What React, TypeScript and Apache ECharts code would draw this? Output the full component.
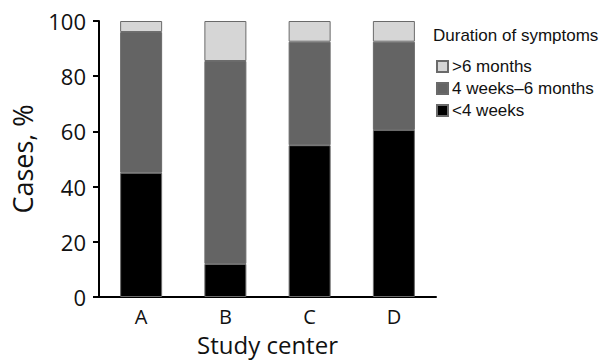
import React, { useEffect, useRef } from "react";
import * as echarts from "echarts";

const categories = ["A", "B", "C", "D"];
const under4Weeks = [45, 12, 55, 60.5];
const weeks4To6Months = [51, 73.5, 37.5, 32];
const over6Months = [4, 14.5, 7.5, 7.5];
const seriesNames = ["<4 weeks", "4 weeks\u20136 months", ">6 months"];
const yTicks = [0, 20, 40, 60, 80, 100];

export default function App() {
  const ref = useRef<HTMLDivElement>(null);
  useEffect(() => {
    if (!ref.current) return;
    const chart = echarts.init(ref.current, null, { renderer: "svg" });
    const border = { borderColor: "#6a6a6a", borderWidth: 1 };
    chart.setOption({
      animation: false,
      backgroundColor: "#ffffff",
      textStyle: { fontFamily: "Open Sans" },
      grid: {
        left: 99,
        right: 170,
        top: 21,
        bottom: 63,
        containLabel: false,
        outerBoundsMode: "none",
      },
      legend: {
        orient: "vertical",
        left: 431,
        top: 53,
        itemWidth: 11,
        itemHeight: 11,
        itemGap: 5,
        data: [seriesNames[2], seriesNames[1], seriesNames[0]],
        textStyle: { fontFamily: "Liberation Sans", fontSize: 17, color: "#111", padding: [0, 0, 0, -1] },
        icon: "rect",
      },
      graphic: [
        {
          type: "text",
          left: 433,
          top: 27,
          style: { text: "Duration of symptoms", font: "17px 'Liberation Sans'", fill: "#111" },
        },
      ],
      xAxis: {
        type: "category",
        data: categories,
        name: "Study center",
        nameLocation: "middle",
        nameGap: 35,
        nameTextStyle: { fontSize: 24, lineHeight: 24, color: "#111", fontFamily: "Open Sans" },
        axisLine: { lineStyle: { color: "#000", width: 2 } },
        axisTick: { show: false },
        axisLabel: { fontSize: 20, lineHeight: 18, color: "#111", margin: 10 },
      },
      yAxis: {
        type: "value",
        min: 0,
        max: 100,
        interval: 20,
        name: "Cases, %",
        nameLocation: "middle",
        nameGap: 63,
        nameTextStyle: { fontSize: 27, color: "#111", fontFamily: "Open Sans" },
        axisLine: { show: true, lineStyle: { color: "#000", width: 2 } },
        axisTick: { show: true, length: 6, lineStyle: { color: "#000", width: 2 } },
        axisLabel: { fontSize: 22, color: "#111", margin: 13, customValues: yTicks },
        splitLine: { show: false },
      },
      series: [
        {
          name: seriesNames[0],
          type: "bar",
          stack: "s",
          barWidth: 42,
          data: under4Weeks,
          itemStyle: { color: "#000000", ...border },
        },
        {
          name: seriesNames[1],
          type: "bar",
          stack: "s",
          barWidth: 42,
          data: weeks4To6Months,
          itemStyle: { color: "#646464", ...border },
        },
        {
          name: seriesNames[2],
          type: "bar",
          stack: "s",
          barWidth: 42,
          data: over6Months,
          itemStyle: { color: "#d6d6d6", ...border },
        },
      ],
    });
    return () => chart.dispose();
  }, []);
  return (
    <div
      ref={ref}
      style={{ position: "absolute", left: 0, top: 0, width: 606, height: 360 }}
    />
  );
}
